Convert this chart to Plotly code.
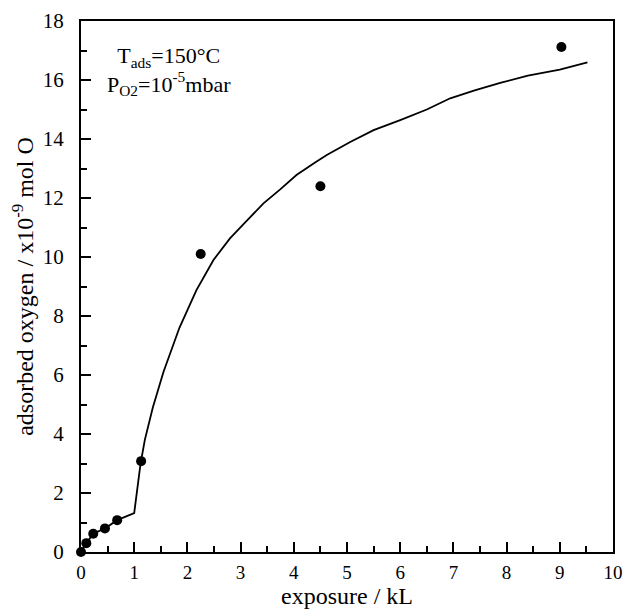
import plotly.graph_objects as go

# measured data points
exposure_pts = [0.0, 0.1, 0.23, 0.45, 0.68, 1.13, 2.25, 4.5, 9.03]
oxygen_pts = [0.0, 0.3, 0.62, 0.8, 1.08, 3.08, 10.1, 12.4, 17.12]

# fitted curve
exposure_fit = [0.0, 0.1, 0.23, 0.45, 0.68, 1.0, 1.12, 1.2, 1.35, 1.55, 1.85, 2.17,
                2.49, 2.8, 3.1, 3.43, 3.75, 4.05, 4.4, 4.62, 5.06, 5.5, 6.0, 6.5,
                6.94, 7.4, 7.88, 8.4, 9.0, 9.52]
oxygen_fit = [0.0, 0.3, 0.62, 0.8, 1.08, 1.32, 3.0, 3.8, 4.9, 6.1, 7.6, 8.88,
              9.9, 10.63, 11.2, 11.82, 12.3, 12.78, 13.2, 13.46, 13.9, 14.3, 14.64, 15.0,
              15.38, 15.65, 15.9, 16.15, 16.35, 16.6]

x_ticks = list(range(0, 11))
y_ticks = list(range(0, 19, 2))

font = "Liberation Serif, Times New Roman, serif"

fig = go.Figure()
fig.add_trace(go.Scatter(x=exposure_fit, y=oxygen_fit, mode="lines",
                         line=dict(color="black", width=1.8), showlegend=False,
                         cliponaxis=False))
fig.add_trace(go.Scatter(x=exposure_pts, y=oxygen_pts, mode="markers",
                         marker=dict(color="black", size=10), showlegend=False,
                         cliponaxis=False))

fig.add_annotation(xref="paper", yref="paper", x=0.165, y=0.905,
                   xanchor="center", yanchor="middle", showarrow=False, align="center",
                   text="T<sub>ads</sub>=150°C<br>P<sub>O2</sub>=10<sup>-5</sup>mbar",
                   font=dict(family=font, size=22, color="black"))

axis_common = dict(showgrid=False, zeroline=False, showline=True, linecolor="black",
                   linewidth=2, mirror=True, ticks="inside", ticklen=10, tickwidth=1.5,
                   tickcolor="black", automargin=False)

fig.update_xaxes(range=[0, 10], tickvals=x_ticks, ticktext=[str(v) for v in x_ticks],
                 ticklabelstandoff=2, tickfont=dict(family=font, size=19, color="black"),
                 title=dict(text="exposure / kL", font=dict(family=font, size=24, color="black"),
                            standoff=4),
                 minor=dict(dtick=0.5, ticks="inside", ticklen=6, tickwidth=1.5, tickcolor="black"),
                 **axis_common)
fig.update_yaxes(range=[0, 18], tickvals=y_ticks, ticktext=[str(v) for v in y_ticks],
                 ticklabelstandoff=11, tickfont=dict(family=font, size=21, color="black"),
                 title=dict(text="adsorbed oxygen / x10<sup>-9</sup> mol O",
                            font=dict(family=font, size=24, color="black"), standoff=2),
                 minor=dict(dtick=1, ticks="inside", ticklen=6, tickwidth=1.5, tickcolor="black"),
                 **axis_common)

fig.update_layout(width=627, height=611, margin=dict(l=81, r=14, t=21, b=59),
                  plot_bgcolor="white", paper_bgcolor="white",
                  font=dict(family=font, color="black"))

fig.write_html("out.html")
